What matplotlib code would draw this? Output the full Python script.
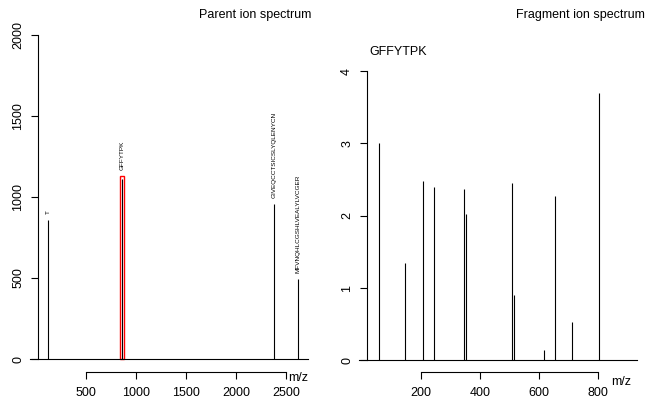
import matplotlib
matplotlib.use("Agg")
import matplotlib.pyplot as plt
from matplotlib.patches import Rectangle

plt.rcParams['font.family'] = ['Liberation Sans', 'DejaVu Sans']

# parent ion spectrum
parent_peptides = ['T', 'GFFYTPK', 'GIVEQCCTSICSLYQLENYCN', 'MFVNQHLCGSHLVEALYLVCGER']
parent_mz = [120.07, 859.42, 2382.0, 2622.0]
parent_intensity = [857, 1112, 957, 491]
selected = 'GFFYTPK'
parent_yticks = [0, 500, 1000, 1500, 2000]
parent_xticks = [500, 1000, 1500, 2000, 2500]

# fragment ion spectrum of the selected peptide
fragment_mz = [58.03, 147.11, 205.10, 244.17, 345.21, 352.17,
               508.26, 515.23, 616.28, 655.33, 713.33, 802.38]
fragment_intensity = [3.00, 1.35, 2.48, 2.40, 2.37, 2.03,
                      2.45, 0.91, 0.15, 2.27, 0.53, 3.70]
fragment_yticks = [0, 1, 2, 3, 4]
fragment_xticks = [200, 400, 600, 800]

W, H = 646, 401
fig = plt.figure(figsize=(W / 100, H / 100), dpi=100)


def px_axes(x0, y0, x1, y1):
    return fig.add_axes([x0 / W, 1 - y1 / H, (x1 - x0) / W, (y1 - y0) / H])


def style(ax, xticks, yticks):
    for s in ['top', 'right']:
        ax.spines[s].set_visible(False)
    ax.spines['left'].set_bounds(yticks[0], yticks[-1])
    ax.spines['bottom'].set_bounds(xticks[0], xticks[-1])
    for s in ['left', 'bottom']:
        ax.spines[s].set_linewidth(0.8)
    ax.set_xticks(xticks)
    ax.set_yticks(yticks)
    ax.tick_params(length=5, width=0.8, labelsize=9)
    ax.tick_params(axis='x', pad=6)
    ax.tick_params(axis='y', pad=5)
    for lab in ax.get_yticklabels():
        lab.set_rotation(90)
        lab.set_va('center')


# left panel
ax1 = px_axes(38, 22, 308, 372)
ax1.set_xlim(20, 2722)
ax1.set_ylim(-80, 2080)
ax1.plot([-60, 2722], [0, 0], color='black', lw=0.8, clip_on=False)
ax1.vlines(parent_mz, 0, parent_intensity, color='black', lw=0.8)
for mz, inten, pep in zip(parent_mz, parent_intensity, parent_peptides):
    top = inten
    if pep == selected:
        ax1.add_patch(Rectangle((mz - 20, 0), 40, inten + 15, fill=False,
                                edgecolor='red', lw=1.0))
        top = inten + 15
    ax1.annotate(pep, (mz, top), xytext=(0, 4.5), textcoords='offset points',
                 rotation=90, ha='center', va='bottom', fontsize=4.6)
style(ax1, parent_xticks, parent_yticks)
fig.text(288 / W, 1 - 378 / H, 'm/z', fontsize=9, va='center', ha='left')
fig.text(311 / W, 1 - 15 / H, 'Parent ion spectrum', fontsize=9, va='center', ha='right')

# right panel
ax2 = px_axes(367, 59.5, 637, 372)
ax2.set_xlim(17, 932)
ax2.set_ylim(-0.16, 4.16)
ax2.plot([-10, 932], [0, 0], color='black', lw=0.8, clip_on=False)
ax2.vlines(fragment_mz, 0, fragment_intensity, color='black', lw=0.8)
style(ax2, fragment_xticks, fragment_yticks)
fig.text(611 / W, 1 - 382 / H, 'm/z', fontsize=9, va='center', ha='left')
fig.text(645 / W, 1 - 15 / H, 'Fragment ion spectrum', fontsize=9, va='center', ha='right')
fig.text(369 / W, 1 - 52 / H, selected, fontsize=9, va='center', ha='left')

fig.savefig('out.png', dpi=100)
